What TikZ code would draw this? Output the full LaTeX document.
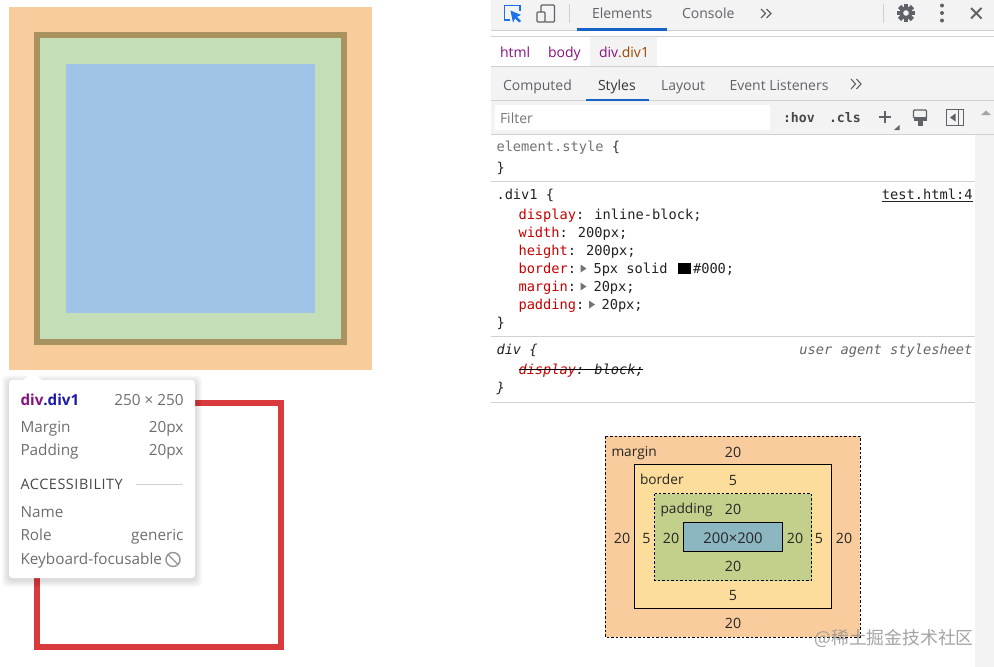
\documentclass[tikz,border=0pt]{standalone}
\usepackage{fontspec}
\setmainfont{Open Sans}
\newfontfamily\monof{DejaVu Sans Mono}
\newfontfamily\cjkf{Noto Sans CJK SC}
\newfontfamily\capsf[LetterSpace=4]{Open Sans}
\usetikzlibrary{arrows.meta}
\definecolor{cOrange}{HTML}{F9CC9D}
\definecolor{cOlive}{HTML}{A89260}
\definecolor{cGreen}{HTML}{C4DFB8}
\definecolor{cBlue}{HTML}{9FC4E7}
\definecolor{cRed}{HTML}{D93A3E}
\definecolor{cBar}{HTML}{F3F3F3}
\definecolor{cLine}{HTML}{D0D0D0}
\definecolor{cTab}{HTML}{5F6368}
\definecolor{cAccent}{HTML}{1A73E8}
\definecolor{cKey}{HTML}{C80000}
\definecolor{cVal}{HTML}{222222}
\definecolor{cPurple}{HTML}{881280}
\definecolor{cBrown}{HTML}{994500}
\definecolor{cDeep}{HTML}{1A1AA6}
\definecolor{cTip}{HTML}{6E6E6E}
\definecolor{cBorderBox}{HTML}{FDDD9B}
\definecolor{cPadBox}{HTML}{C3D08B}
\definecolor{cContent}{HTML}{8CB6C0}
\definecolor{cIcon}{HTML}{5F6368}
\definecolor{cMuted}{HTML}{757575}
\newcommand{\fsz}[1]{\fontsize{#1}{#1}\selectfont}
\newcommand{\kn}{\hspace{-1pt}}
\tikzset{
  x=1pt,y=-1pt,
  lbl/.style={anchor=base west,inner sep=0pt,outer sep=0pt},
  rlbl/.style={anchor=base east,inner sep=0pt,outer sep=0pt},
  ctr/.style={anchor=center,inner sep=0pt,outer sep=0pt},
  tabtxt/.style={lbl,text=cTab,font=\fsz{14}},
  code/.style={lbl,text=cVal,font=\monof\fsz{13.7}},
  tip/.style={lbl,text=cTip,font=\fsz{15.3}},
  tipr/.style={rlbl,text=cTip,font=\fsz{15.3}},
  bm/.style={ctr,text=black!85,font=\fsz{14.2}},
  bml/.style={lbl,text=black!85,font=\fsz{13.7}},
  sep/.style={draw=cLine,line width=1pt},
  rulerow/.style={draw=black!18,line width=1pt},
}
\begin{document}
\begin{tikzpicture}
\useasboundingbox (0,0) rectangle (994,667);
\fill[white] (0,0) rectangle (994,667);
% ---- left rendered box
\fill[cOrange] (9,7) rectangle (371.5,370);
\fill[cOlive] (34,32) rectangle (347,345);
\fill[cGreen] (40,38) rectangle (341,339);
\fill[cBlue] (66,64) rectangle (315,313);
% red box
\draw[cRed,line width=6pt] (37,403) rectangle (281,647);
% tooltip shadow
\foreach \s in {7,6,5,4,3,2,1}
  \fill[black,opacity=.02,rounded corners=5pt] (9-\s,380-\s+2) rectangle (195+\s,578+\s+2);
\fill[white,rounded corners=3pt] (9,380) rectangle (195,578);
\fill[white] (23,380.5) -- (33,372.5) -- (43,380.5) -- cycle;
\node[lbl,font=\bfseries\fsz{15.2},text=cPurple] (tipname) at (20.5,405.5) {div\textcolor{cDeep}{.div1}};
\node[tipr] (tipsize) at (183.5,405.5) {250 × 250};
\node[tip] (tipm) at (20.5,432.5) {Margin};
\node[tipr] (tipmv) at (183.5,432.5) {20px};
\node[tip] (tipp) at (20.5,455.5) {Padding};
\node[tipr] (tippv) at (183.5,455.5) {20px};
\node[lbl,font=\capsf\fsz{14.4},text=black!72] (tipa) at (20.5,489.5) {ACCESSIBILITY};
\draw[black!18,line width=.8pt] (136,484.5) -- (183,484.5);
\node[tip] (tipn) at (20.5,517.5) {Name};
\node[tip] (tipr) at (20.5,540.5) {Role};
\node[tipr] (tiprv) at (183.5,540.5) {generic};
\node[tip] (tipk) at (20.5,564.5) {Keyboard-focusable};
\draw[black!42,line width=1.4pt] (173,559.5) circle (7);
\draw[black!42,line width=1.4pt] (168.2,554.7) -- (177.8,564.3);
% ---- devtools bars
\fill[cBar] (491,0) rectangle (994,30.5);
\fill[white] (491,30.5) rectangle (994,36);
\draw[sep] (491,30.5) -- (994,30.5);
\draw[sep] (491,36.5) -- (994,36.5);
\fill[cBar] (590,37) rectangle (657,66);
\fill[cBar] (491,67) rectangle (994,134);
\draw[sep] (491,66.5) -- (994,66.5);
\draw[sep] (491,100.5) -- (994,100.5);
\draw[sep] (491,134.5) -- (994,134.5);
\fill[cBar] (975,135) rectangle (994,667);
\fill[white,rounded corners=1pt] (495,105) rectangle (770,130);
% toolbar icons
\draw[cAccent,line width=1.4pt] (510,20) -- (504.5,20) -- (504.5,5.5) -- (520,5.5) -- (520,11);
\fill[cAccent] (510.5,10.5) -- (521,15) -- (517,16.8) -- (521,21) -- (519,22.5) -- (515,18.5) -- (513,22.5) -- cycle;
\draw[cIcon,line width=1.2pt,rounded corners=1pt] (537,12) rectangle (545,22);
\draw[cIcon,line width=1.2pt,rounded corners=1pt] (541,12) -- (541,5) -- (554.5,5) -- (554.5,22) -- (545,22);
\draw[sep] (569.5,4) -- (569.5,23);
\node[tabtxt] (tElements) at (592,18.5) {Elements};
\node[tabtxt] (tConsole) at (682,18.5) {Console};
\draw[cAccent!85!black,line width=2.5pt] (577,29.5) -- (667,29.5);
\foreach \dx in {0,5.5}{
 \draw[cIcon,line width=1.1pt] (761+\dx,9) -- (765.5+\dx,13.5) -- (761+\dx,18);}
\draw[sep] (883.5,4) -- (883.5,23);
% gear
\fill[cIcon] (906,13) circle (6.4);
\foreach \a in {0,45,...,315}
  \fill[cIcon] (906,13) ++(\a-14:9.4) -- ++(\a+90:4.6) -- ++(\a+180:3.4) -- ++(\a-90:4.6) -- cycle;
\fill[cBar] (906,13) circle (2.8);
% kebab
\foreach \yy in {5.5,13,20.5} \fill[cIcon] (942,\yy) circle (2);
% close
\draw[cIcon,line width=1.9pt] (971,8) -- (981.5,18.5) (981.5,8) -- (971,18.5);
% breadcrumbs
\node[lbl,font=\fsz{14},text=cPurple] (crumbA) at (500,57) {html};
\node[lbl,font=\fsz{14},text=cPurple] (crumbB) at (548,57) {body};
\node[lbl,font=\fsz{14},text=cPurple] (crumbC) at (599,57) {div\textcolor{cBrown}{.div1}};
% tabs
\node[tabtxt] (sComputed) at (503,90) {Computed};
\node[tabtxt,text=black!80] (sStyles) at (598,90) {Styles};
\node[tabtxt] (sLayout) at (661,90) {Layout};
\node[tabtxt] (sEvents) at (729.5,90) {Event Listeners};
\draw[cAccent!85!black,line width=2pt] (586,100) -- (649,100);
\foreach \dx in {0,5.5}{
 \draw[cIcon,line width=1.1pt] (851+\dx,79) -- (855.5+\dx,84) -- (851+\dx,89);}
% filter bar
\node[lbl,font=\fsz{14},text=cMuted] (sFilter) at (500,123) {Filter};
\node[lbl,font=\monof\bfseries\fsz{13.2},text=black!72] (sHov) at (783,122) {:hov};
\node[lbl,font=\monof\bfseries\fsz{13.2},text=black!72] (sCls) at (829,122) {.cls};
\draw[cIcon,line width=1.4pt] (879,117) -- (891,117) (885,111) -- (885,123);
\fill[cIcon] (899.5,125) -- (899.5,130) -- (894,130) -- cycle;
\draw[cIcon,line width=1.4pt,rounded corners=1pt] (913.5,110) rectangle (926.5,118);
\fill[cIcon] (913.5,117) rectangle (926.5,121);
\fill[cIcon] (917.5,121) rectangle (922.5,126);
\draw[cIcon,line width=1.2pt] (946.5,109.5) rectangle (963.5,125.5);
\draw[cIcon,line width=1.2pt] (958.5,109.5) -- (958.5,125.5);
\fill[cIcon] (955.5,113.5) -- (955.5,121.5) -- (950,117.5) -- cycle;
\fill[black!35] (981,115) -- (991,115) -- (986,110.5) -- cycle;
% styles
\node[code,text=black!55] (r1) at (496.5,151) {element.style \textcolor{black!80}{\{}};
\node[code] (r1e) at (496.5,172) {\}};
\draw[rulerow] (491,181.5) -- (975,181.5);
\node[code] (r2) at (496.5,199) {.div1 \{};
\node[rlbl,text=cVal,font=\monof\fsz{13.7}] (r2s) at (972.5,199) {test.html:4};
\draw[cVal,line width=.8pt] (882,201.5) -- (972.5,201.5);
\node[code] (p1) at (518.5,219) {\textcolor{cKey}{display}:\kn{} inline-block;};
\node[code] (p2) at (518.5,237) {\textcolor{cKey}{width}:\kn{} 200px;};
\node[code] (p3) at (518.5,255) {\textcolor{cKey}{height}:\kn{} 200px;};
\node[code] (p4) at (518.5,273) {\textcolor{cKey}{border}:};
\fill[black!55] (580.5,264.5) -- (580.5,272.5) -- (586.5,268.5) -- cycle;
\node[code] (p4v) at (593.5,273) {5px solid};
\fill[black] (678,263) rectangle (691,273.5);
\node[code] (p4c) at (693,273) {\#000;};
\node[code] (p5) at (518.5,291) {\textcolor{cKey}{margin}:};
\fill[black!55] (580.5,282.5) -- (580.5,290.5) -- (586.5,286.5) -- cycle;
\node[code] (p5v) at (593.5,291) {20px;};
\node[code] (p6) at (518.5,309) {\textcolor{cKey}{padding}:};
\fill[black!55] (589,300.5) -- (589,308.5) -- (595,304.5) -- cycle;
\node[code] (p6v) at (601.5,309) {20px;};
\node[code] (r2e) at (496.5,327) {\}};
\draw[rulerow] (491,336.5) -- (975,336.5);
\node[code,font=\monof\itshape\fsz{13.7}] (r3) at (496.5,354) {div \{};
\node[rlbl,text=black!60,font=\monof\itshape\fsz{13.7}] (r3s) at (972.5,354) {user agent stylesheet};
\node[code,font=\monof\itshape\fsz{13.7}] (p7) at (518.5,374) {\textcolor{cKey}{display}:\kn{} block;};
\draw[black,line width=.9pt] (518.5,369.5) -- (643,369.5);
\node[code,font=\monof\itshape\fsz{13.7}] (r3e) at (496.5,392) {\}};
\draw[rulerow] (491,402.5) -- (975,402.5);
% ---- box model
\draw[black,fill=cOrange,line width=.8pt,dash pattern=on 2.5pt off 2pt] (605.3,436.3) rectangle (860.3,637.3);
\draw[black,fill=cBorderBox,line width=.9pt] (634.5,464.5) rectangle (831.5,608.5);
\draw[black,fill=cPadBox,line width=.8pt,dash pattern=on 2.5pt off 2pt] (654.5,493.5) rectangle (811.5,580.5);
\draw[black,fill=cContent,line width=.9pt] (683.5,522.5) rectangle (782.5,551.5);
\node[bml] (bMargin) at (611.5,456.5) {margin};
\node[bml] (bBorder) at (640,484.5) {border};
\node[bml] (bPadding) at (660.5,513.5) {padding};
\node[bm] (v1) at (733,452) {20};
\node[bm] (v2) at (733,480) {5};
\node[bm] (v3) at (733,509) {20};
\node[bm,font=\fsz{14.8}] (v4) at (733,538) {200×200};
\node[bm] (v5) at (622,538) {20};
\node[bm] (v6) at (646.5,538) {5};
\node[bm] (v7) at (671,538) {20};
\node[bm] (v8) at (795,538) {20};
\node[bm] (v9) at (819,538) {5};
\node[bm] (v10) at (844,538) {20};
\node[bm] (v11) at (733,566.5) {20};
\node[bm] (v12) at (733,595) {5};
\node[bm] (v13) at (733,623.5) {20};
% watermark
\node[ctr,font=\cjkf\fsz{17.8},text=black!42,opacity=.85] (wm) at (894,638) {@稀土掘金技术社区};
\end{tikzpicture}
\end{document}
